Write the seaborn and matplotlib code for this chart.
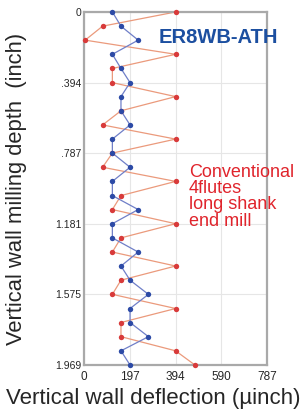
import numpy as np
import pandas as pd
import seaborn as sns
from matplotlib import pyplot as plt

# depth positions (inch) and wall deflection (micro-inch)
depth = [0, .079, .157, .236, .315, .394, .472, .551, .630, .709, .787, .866, .945,
         1.024, 1.102, 1.181, 1.260, 1.339, 1.417, 1.496, 1.575, 1.654, 1.732, 1.811,
         1.890, 1.969]
er8wb_ath = [122, 159, 233, 122, 159, 198, 159, 159, 198, 122, 122, 198, 122,
             122, 233, 122, 122, 233, 159, 198, 277, 198, 198, 277, 159, 198]
conventional = [394, 80, 5, 394, 122, 122, 394, 159, 80, 394, 122, 80, 394,
                159, 122, 394, 159, 122, 394, 159, 122, 394, 159, 159, 394, 477]

x_ticks = [0, 197, 394, 590, 787]
x_tick_labels = ["0", "197", "394", "590", "787"]
y_ticks = [0, .394, .787, 1.181, 1.575, 1.969]
y_tick_labels = ["0", ".394", ".787", "1.181", "1.575", "1.969"]

df_blue = pd.DataFrame({"depth": depth, "deflection": er8wb_ath})
df_red = pd.DataFrame({"depth": depth, "deflection": conventional})

sns.set_style("white")
plt.rcParams["font.family"] = ["Liberation Sans", "DejaVu Sans"]

fig = plt.figure(figsize=(3.0, 4.15), dpi=100)
ax = fig.add_axes([0.28, 0.1205, 0.61, 0.8506])

# connecting lines first (data order), then markers on top
sns.lineplot(data=df_red, x="deflection", y="depth", sort=False, estimator=None,
             color="#eb9a7c", linewidth=0.9, ax=ax)
sns.lineplot(data=df_blue, x="deflection", y="depth", sort=False, estimator=None,
             color="#6f7fc8", linewidth=0.9, ax=ax)
sns.scatterplot(data=df_red, x="deflection", y="depth", color="#d83a3a", s=15,
                linewidth=0, ax=ax, zorder=3, clip_on=False)
sns.scatterplot(data=df_blue, x="deflection", y="depth", color="#2c4aa6", s=15,
                linewidth=0, ax=ax, zorder=4, clip_on=False)

ax.set_xlim(0, 787)
ax.set_ylim(1.969, 0)
ax.set_xticks(x_ticks)
ax.set_xticklabels(x_tick_labels, fontsize=8.5)
ax.set_yticks(y_ticks)
ax.set_yticklabels(y_tick_labels, fontsize=7.5)
ax.tick_params(axis="both", length=0)
ax.tick_params(axis="x", pad=4)
ax.tick_params(axis="y", pad=2)

ax.grid(True, color="#e6e6e6", linewidth=0.8)
ax.set_axisbelow(True)
for side in ["left", "right", "top", "bottom"]:
    ax.spines[side].set_color("#a9a9a9")
    ax.spines[side].set_linewidth(1.6)

ax.set_xlabel("Vertical wall deflection (µinch)", fontsize=16)
ax.xaxis.set_label_coords(0.377, -0.066)
ax.set_ylabel("Vertical wall milling depth  (inch)", fontsize=15.8)
ax.yaxis.set_label_coords(-0.31, 0.5)

ax.text(0.41, 0.912, "ER8WB-ATH", transform=ax.transAxes, fontsize=14.5,
        fontweight="bold", color="#1c4fa0", va="baseline", ha="left", clip_on=False)
ax.text(0.574, 0.57, "Conventional\n4flutes\nlong shank\nend mill",
        transform=ax.transAxes, fontsize=13, color="#e0242c", va="top", ha="left",
        linespacing=0.95, clip_on=False)

fig.savefig("out.png", dpi=100)
